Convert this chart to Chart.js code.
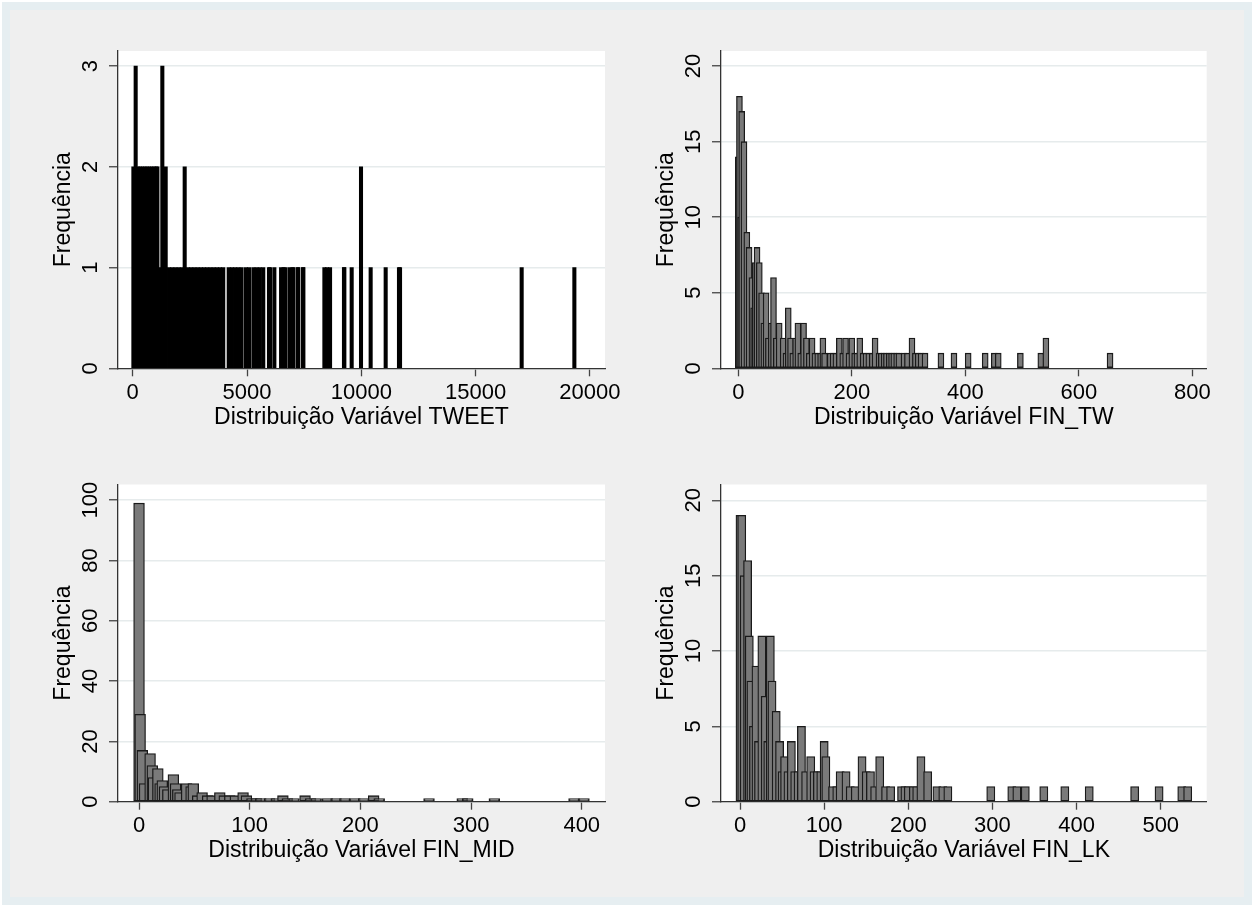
<!DOCTYPE html>
<html>
<head>
<meta charset="utf-8">
<script src="https://cdn.jsdelivr.net/npm/chart.js@4.4.1/dist/chart.umd.min.js"></script>
<style>
  html, body { margin: 0; padding: 0; }
  body { width: 1254px; height: 907px; background: #ffffff; position: relative; overflow: hidden; }
  #frame { position: absolute; left: 2px; top: 2px; right: 2px; bottom: 2px; background: #e6eef1; }
  #inner { position: absolute; left: 10px; top: 10px; right: 10px; bottom: 10px; background: #efefef; }
  canvas { position: absolute; left: 0; top: 0; }
</style>
</head>
<body>
<div id="frame"></div>
<div id="inner"></div>
<canvas id="tweet" width="1254" height="907"></canvas>
<canvas id="fintw" width="1254" height="907"></canvas>
<canvas id="finmid" width="1254" height="907"></canvas>
<canvas id="finlk" width="1254" height="907"></canvas>
<script>
// TWEET: bar positions and frequencies
const tweetBins = [30, 130, 230, 330, 430, 530, 630, 730, 830, 930, 1030, 1080, 1180, 1296, 1443,
  1590, 1730, 1870, 2010, 2150, 2274, 2420, 2560, 2700, 2840, 2980, 3120, 3260, 3400, 3540, 3680,
  3820, 3960, 4200, 4340, 4480, 4620, 4760, 4950, 5090, 5280, 5420, 5560, 5710, 5961, 6007, 6196,
  6490, 6600, 6663, 6853, 6990, 7026, 7216, 7245, 7450, 7464, 8384, 8500, 8632, 9241, 9257, 9578,
  9986, 10408, 11065, 11647, 11693, 17013, 19318];
const tweetFreq = [2, 3, 2, 2, 2, 2, 2, 2, 2, 2, 2, 2, 1, 3, 2,
  1, 1, 1, 1, 1, 2, 1, 1, 1, 1, 1, 1, 1, 1, 1, 1,
  1, 1, 1, 1, 1, 1, 1, 1, 1, 1, 1, 1, 1, 1, 1, 1,
  1, 1, 1, 1, 1, 1, 1, 1, 1, 1, 1, 1, 1, 1, 1, 1,
  2, 1, 1, 1, 1, 1, 1];

// FIN_TW
const finTwBins = [0, 2, 4, 6, 10, 15, 19, 24, 27, 30, 33, 37, 41, 45, 49, 53, 58, 62, 67, 72, 79,
  84, 88, 92, 96, 101, 105, 110, 115, 120, 125, 130, 135, 140, 145, 149, 152, 162, 167, 172, 178,
  184, 189, 195, 200, 205, 209, 214, 220, 225, 230, 236, 241, 248, 252, 257, 261, 266, 270, 274,
  279, 283, 292, 298, 306, 312, 317, 322, 329, 357, 380, 405, 435, 451, 458, 497, 533, 542, 655];
const finTwFreq = [14, 18, 10, 17, 15, 9, 8, 6, 4, 7, 8, 7, 5, 3, 5, 2, 3, 6, 2, 3, 2,
  1, 4, 2, 1, 2, 3, 1, 3, 2, 1, 2, 1, 1, 1, 2, 1, 1, 1, 1, 2,
  1, 2, 1, 2, 1, 1, 2, 1, 1, 1, 1, 2, 1, 1, 1, 1, 1, 1, 1,
  1, 1, 1, 1, 2, 1, 1, 1, 1, 1, 1, 1, 1, 1, 1, 1, 1, 2, 1];

// FIN_MID
const finMidBins = [0, 1, 3, 5, 10, 12, 13, 17, 19, 21, 23, 26, 31, 33, 35, 37, 43, 47, 49, 53, 57,
  62, 66, 73, 77, 82, 87, 94, 97, 102, 106, 110, 118, 124, 130, 134, 140, 150, 155, 160, 170, 178,
  186, 195, 203, 212, 217, 262, 292, 297, 321, 393, 402];
const finMidFreq = [99, 29, 17, 6, 16, 12, 8, 11, 6, 7, 5, 4, 9, 6, 4, 3, 6, 5, 6, 2, 3,
  2, 2, 3, 2, 2, 2, 3, 2, 1, 1, 1, 1, 1, 2, 1, 1, 2, 1, 1, 1, 1,
  1, 1, 1, 2, 1, 1, 1, 1, 1, 1, 1];

// FIN_LK
const finLkBins = [0, 2, 5, 9, 11, 13, 16, 19, 22, 26, 30, 33, 36, 38, 43, 47, 50, 53, 57, 61, 65,
  69, 73, 78, 84, 88, 92, 96, 100, 102, 110, 115, 119, 126, 131, 137, 145, 150, 155, 160, 166, 173,
  179, 192, 196, 200, 206, 210, 215, 223, 234, 241, 247, 298, 323, 329, 339, 361, 386, 415, 469,
  498, 525, 532];
const finLkFreq = [19, 19, 15, 16, 11, 8, 5, 9, 4, 11, 7, 4, 11, 8, 6, 4, 2, 3, 2, 4, 2,
  2, 5, 2, 3, 2, 2, 2, 4, 3, 1, 1, 2, 2, 1, 1, 3, 2, 2, 1, 3, 1,
  1, 1, 1, 1, 1, 1, 3, 2, 1, 1, 1, 1, 1, 1, 1, 1, 1, 1, 1,
  1, 1, 1];

// axis tick labels
const tweetXTicks = [0, 5000, 10000, 15000, 20000];
const finTwXTicks = [0, 200, 400, 600, 800];
const finMidXTicks = [0, 100, 200, 300, 400];
const finLkXTicks = [0, 100, 200, 300, 400, 500];
const tweetYTicks = [0, 1, 2, 3];
const finTwYTicks = [0, 5, 10, 15, 20];
const finMidYTicks = [0, 20, 40, 60, 80, 100];
const finLkYTicks = [0, 5, 10, 15, 20];

const xTitles = ['Distribuição Variável TWEET', 'Distribuição Variável FIN_TW',
  'Distribuição Variável FIN_MID', 'Distribuição Variável FIN_LK'];
const yTitle = 'Frequência';

const FONT = "'Liberation Sans', Arial, Helvetica, sans-serif";

// white plot region behind the bars
const plotBg = {
    id: 'plotBg',
    beforeDraw(chart) {
        const {ctx, chartArea: a} = chart;
        ctx.save();
        ctx.fillStyle = '#ffffff';
        ctx.fillRect(a.left, a.top, a.right - a.left, a.bottom - a.top);
        ctx.restore();
    }
};

// y tick labels turned on their side, as Stata draws them
const yLabels = {
    id: 'yLabels',
    afterDraw(chart) {
        const s = chart.scales.y;
        const ctx = chart.ctx;
        ctx.save();
        ctx.font = '22px ' + FONT;
        ctx.fillStyle = '#000';
        ctx.textAlign = 'center';
        ctx.textBaseline = 'middle';
        s.ticks.forEach(t => {
            const y = s.getPixelForValue(t.value);
            ctx.save();
            ctx.translate(s.right - 28, y);
            ctx.rotate(-Math.PI / 2);
            ctx.fillText(String(t.value), 0, 1);
            ctx.restore();
        });
        ctx.restore();
    }
};

function makeHist(id, bins, freq, cfg) {
    return new Chart(document.getElementById(id), {
        type: 'bar',
        data: {
            datasets: [{
                data: bins.map((x, i) => ({x: x, y: freq[i]})),
                backgroundColor: cfg.fill,
                borderColor: cfg.line,
                borderWidth: cfg.lineWidth,
                borderSkipped: false,
                barThickness: cfg.thick
            }]
        },
        options: {
            responsive: false,
            animation: false,
            events: [],
            layout: { padding: cfg.pad },
            plugins: { legend: { display: false }, tooltip: { enabled: false } },
            scales: {
                x: {
                    type: 'linear',
                    min: cfg.xMin,
                    max: cfg.xMax,
                    offset: false,
                    afterBuildTicks(s) { s.ticks = cfg.xTicks.map(v => ({value: v})); },
                    ticks: {
                        autoSkip: false,
                        maxRotation: 0,
                        padding: 3,
                        color: '#000',
                        font: { family: FONT, size: 22 },
                        callback: v => String(v)
                    },
                    grid: { offset: false, drawOnChartArea: false, tickLength: 8, tickColor: '#444', tickWidth: 1.3 },
                    border: { color: '#333', width: 1.3 },
                    title: { display: true, text: cfg.xTitle, color: '#000', padding: 0,
                             font: { family: FONT, size: 23 } },
                    afterFit(s) { s.height = 63; }
                },
                y: {
                    min: 0,
                    max: cfg.yMax,
                    afterBuildTicks(s) { s.ticks = cfg.yTicks.map(v => ({value: v})); },
                    ticks: { display: false },
                    grid: { color: '#e6ebec', lineWidth: 1.5, tickLength: 9, tickColor: '#444', tickWidth: 1.3 },
                    border: { color: '#333', width: 1.3 },
                    title: { display: true, text: yTitle, color: '#000', padding: 0,
                             font: { family: FONT, size: 23 } },
                    afterFit(s) { s.width = 68; }
                }
            }
        },
        plugins: [plotBg, yLabels]
    });
}

const grey = '#7a7a7a', dark = '#1a1a1a';

makeHist('tweet', tweetBins, tweetFreq, {
    fill: '#000', line: '#000', lineWidth: 0, thick: 3.4,
    pad: { left: 50, right: 649, top: 51, bottom: 475.7 },
    xMin: -643, xMax: 20658, yMax: 3.15,
    xTicks: tweetXTicks, yTicks: tweetYTicks, xTitle: xTitles[0]
});
makeHist('fintw', finTwBins, finTwFreq, {
    fill: grey, line: dark, lineWidth: 1.3, thick: 6,
    pad: { left: 653, right: 47.3, top: 51, bottom: 475.7 },
    xMin: -30.5, xMax: 825.3, yMax: 21.0,
    xTicks: finTwXTicks, yTicks: finTwYTicks, xTitle: xTitles[1]
});
makeHist('finmid', finMidBins, finMidFreq, {
    fill: grey, line: dark, lineWidth: 1.3, thick: 10.8,
    pad: { left: 50, right: 649, top: 484.5, bottom: 42.3 },
    xMin: -19, xMax: 421, yMax: 105.2,
    xTicks: finMidXTicks, yTicks: finMidYTicks, xTitle: xTitles[2]
});
makeHist('finlk', finLkBins, finLkFreq, {
    fill: grey, line: dark, lineWidth: 1.3, thick: 8.2,
    pad: { left: 653, right: 47.3, top: 484.5, bottom: 42.3 },
    xMin: -22.6, xMax: 554.6, yMax: 21.05,
    xTicks: finLkXTicks, yTicks: finLkYTicks, xTitle: xTitles[3]
});
</script>
</body>
</html>
